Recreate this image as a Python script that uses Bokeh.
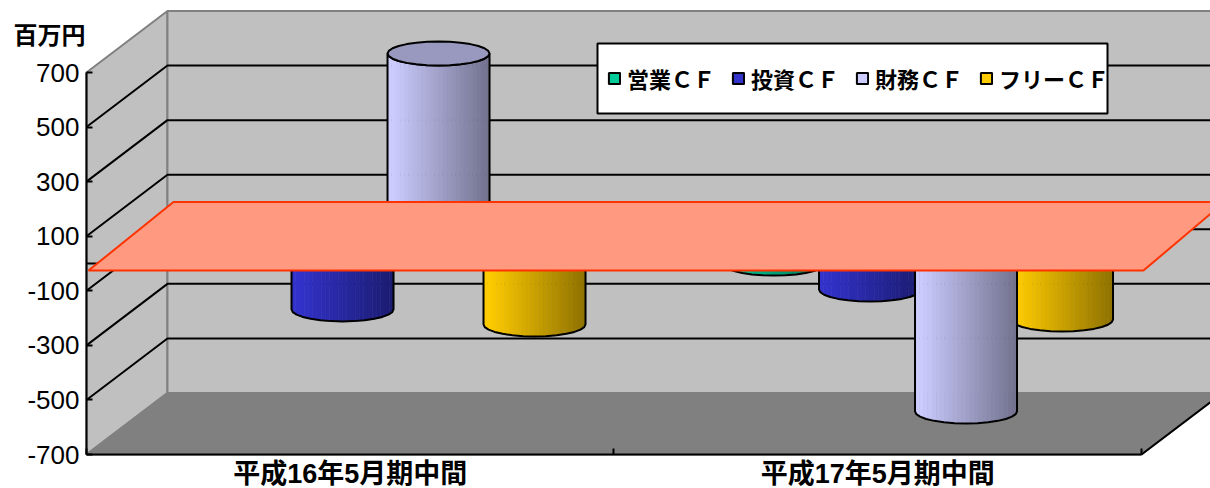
import numpy as np
from bokeh.plotting import figure
from bokeh.embed import file_html
from bokeh.resources import INLINE
from bokeh.models import Range1d, FixedTicker, Legend, LegendItem, Label

categories = ["平成16年5月期中間", "平成17年5月期中間"]
series_names = ["営業ＣＦ", "投資ＣＦ", "財務ＣＦ", "フリーＣＦ"]
operating_cf = [-55, -113]
investing_cf = [-281, -208]
financing_cf = [657, -655]
free_cf = [-336, -318]
series_colors = ["#00CC99", "#3333CC", "#CCCCFF", "#FFCC00"]
y_ticks = [700, 500, 300, 100, -100, -300, -500, -700]
y_tick_labels = {v: str(v) for v in y_ticks}
unit_label = "百万円"

# scales: pixels per data unit
W, H = 1210, 488
PX_X = 527.5
PX_Y = 382 / 1400
CENTER_PX = 349.7
AXIS_BOTTOM_PX = 454
DEPTH_X = 81 / PX_X
DEPTH_Y = 61.5 / PX_Y
RADIUS = 51 / PX_X
ELL = 12 / PX_Y
SLOT = 96 / PX_X

p = figure(width=W, height=H, output_backend="svg", toolbar_location=None,
           x_range=Range1d(-CENTER_PX / PX_X, (W - CENTER_PX) / PX_X),
           y_range=Range1d(-700 - (H - AXIS_BOTTOM_PX) / PX_Y, -700 + AXIS_BOTTOM_PX / PX_Y),
           min_border=0)
p.grid.visible = False
p.outline_line_color = None

x0, x1 = -0.5, 1.5
ymin, ymax = -700, 700
WALL = "#C0C0C0"
EDGE = "#808080"

# walls and floor
p.patch([x0, x0 + DEPTH_X, x0 + DEPTH_X, x0],
        [ymin, ymin + DEPTH_Y, ymax + DEPTH_Y, ymax],
        fill_color=WALL, line_color=EDGE, line_width=2)
p.patch([x0 + DEPTH_X, x1 + DEPTH_X, x1 + DEPTH_X, x0 + DEPTH_X],
        [ymin + DEPTH_Y, ymin + DEPTH_Y, ymax + DEPTH_Y, ymax + DEPTH_Y],
        fill_color=WALL, line_color=EDGE, line_width=2)
p.patch([x0, x1, x1 + DEPTH_X, x0 + DEPTH_X],
        [ymin, ymin, ymin + DEPTH_Y, ymin + DEPTH_Y],
        fill_color="#808080", line_color=EDGE, line_width=2)
p.line([x1, x1 + DEPTH_X], [ymin, ymin + DEPTH_Y], line_color="black", line_width=2)

# gridlines
for v in y_ticks[1:-1]:
    p.line([x0, x0 + DEPTH_X, x1 + DEPTH_X], [v, v + DEPTH_Y, v + DEPTH_Y],
           line_color="black", line_width=2)
# zero axis stub behind the plane
p.line([x0, x1], [0, 0], line_color="black", line_width=2)


def shade(hex_color, k):
    r, g, b = (int(hex_color[i:i + 2], 16) for i in (1, 3, 5))
    return "#%02x%02x%02x" % (int(r * k), int(g * k), int(b * k))


def cylinder(xc, value, color):
    """Shaded cylinder standing on the zero plane at mid depth."""
    base = DEPTH_Y / 2
    end = value + base
    edges = np.linspace(-1, 1, 25)
    xs, ys, cols = [], [], []
    for a, b in zip(edges[:-1], edges[1:]):
        ell_a = -ELL * np.sqrt(1 - a * a)
        ell_b = -ELL * np.sqrt(1 - b * b)
        xs.append([xc + a * RADIUS, xc + b * RADIUS, xc + b * RADIUS, xc + a * RADIUS])
        ys.append([end + ell_a, end + ell_b, base, base])
        t = max(0.0, ((a + b) / 2 + 1) / 2 - 0.06)
        cols.append(shade(color, 1 - 0.47 * t))
    p.patches(xs, ys, fill_color=cols, line_color=cols, line_width=0.6)
    th = np.linspace(np.pi, 2 * np.pi, 15)
    ox = xc + RADIUS * np.cos(th)
    oy = end + ELL * np.sin(th)
    p.line(np.r_[xc - RADIUS, ox, xc + RADIUS], np.r_[base, oy, base],
           line_color="black", line_width=2)
    if value > 0:
        th = np.linspace(0, 2 * np.pi, 29)
        p.patch(xc + RADIUS * np.cos(th), end + ELL * np.sin(th),
                fill_color=shade(color, 0.75), line_color="black", line_width=2)


series = [operating_cf, investing_cf, financing_cf, free_cf]
for idx in (0, 1, 3, 2):
    for c, v in enumerate(series[idx]):
        cylinder(c + (idx - 2) * SLOT + SLOT * 0.92, v, series_colors[idx])

# salmon plane overlay
PN = 2 / PX_X
p.patch([x0 + PN, x0 + DEPTH_X + 3 * PN, x1 + DEPTH_X + PN, x1 + PN],
        [-26, DEPTH_Y, DEPTH_Y, -26],
        fill_color="#FF9980", line_color="#FF3300", line_width=2, level="overlay")

# axes
yax = p.yaxis[0]
yax.fixed_location = x0
yax.ticker = FixedTicker(ticks=y_ticks)
yax.major_label_overrides = y_tick_labels
yax.bounds = (ymin, ymax)
yax.major_tick_in, yax.major_tick_out = 6, 0
yax.major_tick_line_width = 2
yax.axis_line_width = 2
yax.minor_tick_line_color = None
yax.major_label_text_font = "Liberation Sans"
yax.major_label_text_font_size = "26px"
yax.major_label_text_color = "black"
yax.major_label_standoff = 7

xax = p.xaxis[0]
xax.fixed_location = ymin
xax.ticker = FixedTicker(ticks=[0, 1], minor_ticks=[-0.5, 0.5, 1.5])
xax.major_label_overrides = {i: c for i, c in enumerate(categories)}
xax.bounds = (x0, x1)
xax.major_tick_line_color = None
xax.minor_tick_in, xax.minor_tick_out = 6, 0
xax.minor_tick_line_width = 2
xax.axis_line_width = 2
xax.major_label_text_font = "'Liberation Sans', 'Noto Sans CJK JP'"
xax.major_label_text_font_style = "bold"
xax.major_label_text_font_size = "27px"
xax.major_label_text_color = "black"
xax.major_label_standoff = -2

# legend box and legend
box_l, box_r = (597 - CENTER_PX) / PX_X, (1107 - CENTER_PX) / PX_X
box_b, box_t = -700 + (AXIS_BOTTOM_PX - 113) / PX_Y, -700 + (AXIS_BOTTOM_PX - 43) / PX_Y
p.patch([box_l, box_r, box_r, box_l], [box_b, box_b, box_t, box_t],
        fill_color="white", line_color="black", line_width=2, level="annotation")
items = []
for name, col in zip(series_names, series_colors):
    r = p.quad(left=[np.nan], right=[np.nan], top=[np.nan], bottom=[np.nan],
               fill_color=col, line_color="black", line_width=2)
    items.append(LegendItem(label=name, renderers=[r]))
legend = Legend(items=items, orientation="horizontal", location=(597, 375),
                padding=10, spacing=16, margin=0, label_standoff=6,
                glyph_width=14, glyph_height=14, label_height=50,
                label_text_font="Noto Sans CJK JP", label_text_font_style="bold",
                label_text_font_size="22px", label_text_color="black",
                background_fill_alpha=0, border_line_alpha=0)
p.add_layout(legend, "center")

p.add_layout(Label(x=13, y=455, x_units="screen", y_units="screen", text=unit_label,
                   text_font="Noto Sans CJK JP", text_font_style="bold",
                   text_font_size="24px", text_color="black",
                   text_baseline="middle", text_align="left"))

open("out.html", "w").write(file_html(p, INLINE))
